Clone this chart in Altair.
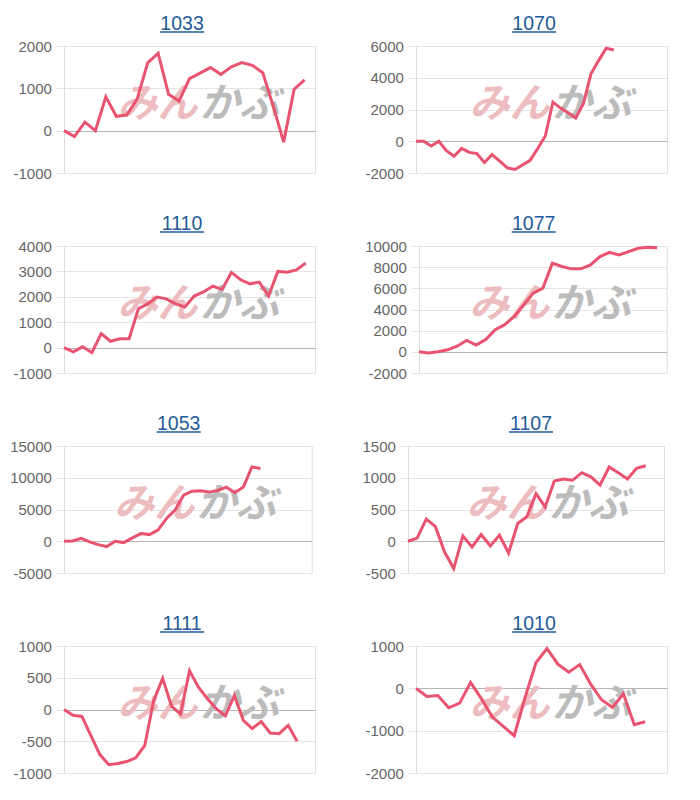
import altair as alt
import pandas as pd

# ---- data ----
titles = ["1033", "1070", "1110", "1077", "1053", "1107", "1111", "1010"]

s1033 = [0, -140, 200, 0, 800, 340, 370, 750, 1600, 1830, 860, 700, 1230, 1360,
         1490, 1330, 1510, 1610, 1545, 1370, 580, -270, 980, 1200]
s1070 = [0, 0, -300, 0, -600, -950, -450, -700, -780, -1340, -840, -1250, -1670,
         -1780, -1500, -1200, -460, 330, 2470, 2090, 1800, 1460, 2360, 4250, 5080,
         5860, 5750]
s1110 = [0, -170, 30, -200, 550, 250, 350, 350, 1530, 1720, 1990, 1920, 1720, 1600,
         2030, 2190, 2420, 2290, 2960, 2670, 2510, 2580, 2030, 3000, 2970, 3060, 3330]
s1077 = [0, -120, 0, 190, 530, 1070, 630, 1160, 2100, 2570, 3350, 4450, 5550, 6020,
         8370, 8060, 7840, 7840, 8210, 9000, 9400, 9150, 9470, 9780, 9870, 9840]
s1053 = [0, 50, 470, -100, -530, -840, 0, -210, 530, 1210, 1050, 1740, 3580, 4890,
         7260, 7890, 7950, 7740, 8000, 8530, 7630, 8530, 11700, 11450]
s1107 = [0, 50, 350, 230, -170, -430, 85, -90, 105, -75, 95, -185, 280, 385, 750,
         540, 950, 980, 960, 1080, 1015, 885, 1170, 1080, 980, 1150, 1190]
s1111 = [0, -90, -110, -410, -710, -870, -850, -820, -760, -570, 140, 490, 50, -70,
         610, 350, 170, 10, -100, 220, -170, -300, -190, -370, -380, -250, -500]
s1010 = [0, -190, -170, -460, -350, 140, -250, -680, -900, -1120, -210, 610, 940,
         570, 380, 560, 100, -270, -450, -130, -860, -790]

series = [s1033, s1070, s1110, s1077, s1053, s1107, s1111, s1010]
# number of x slots (labels) on each chart's category axis
slots = [25, 34, 28, 27, 30, 29, 29, 24]

# y axis tick labels
ticks1033 = [-1000, 0, 1000, 2000]
ticks1070 = [-2000, 0, 2000, 4000, 6000]
ticks1110 = [-1000, 0, 1000, 2000, 3000, 4000]
ticks1077 = [-2000, 0, 2000, 4000, 6000, 8000, 10000]
ticks1053 = [-5000, 0, 5000, 10000, 15000]
ticks1107 = [-500, 0, 500, 1000, 1500]
ticks1111 = [-1000, -500, 0, 500, 1000]
ticks1010 = [-2000, -1000, 0, 1000]
ticks = [ticks1033, ticks1070, ticks1110, ticks1077, ticks1053, ticks1107, ticks1111, ticks1010]

# ---- styling / layout ----
LINE = "#e8536f"
TITLE_BLUE = "#1f5b98"
LABEL_FS = 15
GAP = 12.6                 # tick + padding between labels and plot
PH = 127
COL_LEFT = [13, 363]       # left edge of each column's label area (page px)
COL_RIGHT = [315, 665]     # right edge of each column's plot area (page px)
COL_START = [12, 323]      # layout edge of each column
TITLE_CX = [182, 532]
one = pd.DataFrame({"k": [0]})


def label_width(v):
    return sum(0.333 * LABEL_FS if c == "-" else 0.556 * LABEL_FS for c in str(v))


def panel(title, vals, nslots, tk, col):
    P = COL_LEFT[col] + max(label_width(t) for t in tk) + GAP   # plot left, page px
    pw = COL_RIGHT[col] - P
    rel = lambda x: x - P
    df = pd.DataFrame({"i": list(range(len(vals))), "v": vals})
    y_axis = alt.Axis(
        values=tk, labelExpr="'' + datum.value", grid=True,
        gridColor=alt.condition("datum.value === 0", alt.value("#b5b5b5"), alt.value("#e4e4e4")),
        tickColor="#e4e4e4", tickSize=8, labelPadding=4.6,
        domainColor="#dcdcdc", labelFont="Liberation Sans", labelFontSize=LABEL_FS,
        labelColor="#666666", title=None, minExtent=0,
    )
    # invisible anchor fixing the panel's left layout edge
    anchor = alt.Chart(one).mark_rule(color="white", opacity=0, strokeWidth=0.01).encode(
        x=alt.value(rel(COL_START[col])), y=alt.value(0), y2=alt.value(10)
    )
    wm_split = TITLE_CX[col] + 16.5
    wm_pink = alt.Chart(one).mark_text(
        text="みん", align="right", baseline="middle", font="Noto Sans CJK JP",
        fontSize=40, fontWeight="bold", fontStyle="italic", color="#edbcbf",
    ).encode(x=alt.value(rel(wm_split - 1)), y=alt.value(59))
    wm_gray = alt.Chart(one).mark_text(
        text="かぶ", align="left", baseline="middle", font="Noto Sans CJK JP",
        fontSize=40, fontWeight="bold", fontStyle="italic", color="#bcbcbc",
    ).encode(x=alt.value(rel(wm_split + 1)), y=alt.value(59))
    ttl = alt.Chart(one).mark_text(
        text=title, align="center", baseline="alphabetic", font="Liberation Sans",
        fontSize=19.5, color=TITLE_BLUE,
    ).encode(x=alt.value(rel(TITLE_CX[col])), y=alt.value(-16))
    underline = alt.Chart(one).mark_rule(color=TITLE_BLUE, strokeWidth=1.5).encode(
        x=alt.value(rel(TITLE_CX[col] - 22)), x2=alt.value(rel(TITLE_CX[col] + 22)),
        y=alt.value(-14)
    )
    line = alt.Chart(df).mark_line(color=LINE, strokeWidth=3).encode(
        x=alt.X("i:Q", scale=alt.Scale(domain=[0, nslots - 1], nice=False, zero=False), axis=None),
        y=alt.Y("v:Q", scale=alt.Scale(domain=[tk[0], tk[-1]], nice=False, zero=False), axis=y_axis),
    )
    return alt.layer(anchor, wm_pink, wm_gray, ttl, underline, line).properties(width=pw, height=PH)


panels = [panel(t, s, n, tk, k % 2) for k, (t, s, n, tk) in enumerate(zip(titles, series, slots, ticks))]
rows = [alt.hconcat(panels[2 * r], panels[2 * r + 1], spacing=COL_START[1] - COL_RIGHT[0])
        for r in range(4)]

chart = alt.vconcat(*rows, spacing=31).properties(
    padding={"left": 0, "top": 5, "right": 5, "bottom": 0}
).configure_view(stroke=None).configure(background="white")

chart.save("out.html", embed_options={"renderer": "svg", "actions": False})
